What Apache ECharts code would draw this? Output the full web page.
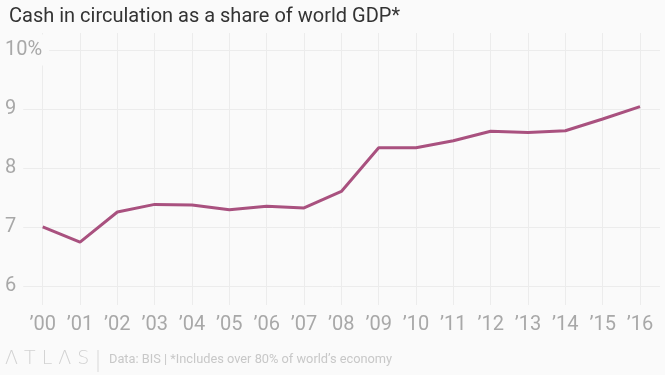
<!DOCTYPE html>
<html>
<head>
<meta charset="utf-8">
<script src="https://cdn.jsdelivr.net/npm/echarts@6/dist/echarts.min.js"></script>
<style>
  html, body { margin: 0; padding: 0; background: #fafafa; }
  #chart { width: 665px; height: 375px; }
</style>
</head>
<body>
<div id="chart"></div>
<script>
var years = ["’00", "’01", "’02", "’03", "’04", "’05", "’06", "’07", "’08",
	"’09", "’10", "’11", "’12", "’13", "’14", "’15", "’16"];
var cashShare = [7.0, 6.74, 7.25, 7.38, 7.37, 7.29, 7.35, 7.32, 7.60,
	8.34, 8.34, 8.46, 8.62, 8.60, 8.63, 8.83, 9.04];
var yTicks = [6, 7, 8, 9, 10];

var chart = echarts.init(document.getElementById('chart'));
chart.setOption({
	backgroundColor: '#fafafa',
	animation: false,
	title: {
		text: 'Cash in circulation as a share of world GDP*',
		left: 4,
		top: 2,
		textStyle: {
			fontFamily: 'Roboto',
			fontWeight: 'normal',
			fontSize: 20,
			color: '#333'
		}
	},
	// grid 0 carries the horizontal rules and y labels, grid 1 the line
	grid: [
		{ left: 5, right: 5, top: 50, bottom: 89 },
		{ left: 42.7, right: 25, top: 33, bottom: 70 }
	],
	xAxis: [
		{ gridIndex: 0, type: 'category', data: years, show: false },
		{
			gridIndex: 1,
			type: 'category',
			data: years,
			boundaryGap: false,
			z: 0,
			axisLine: { show: false },
			axisTick: { show: false },
			splitLine: { show: true, lineStyle: { color: '#ececec', width: 1 } },
			axisLabel: {
				margin: 10,
				fontFamily: 'Roboto',
				fontSize: 20,
				color: '#a8a8a8'
			}
		}
	],
	yAxis: [
		{
			gridIndex: 0,
			type: 'value',
			min: yTicks[0],
			max: yTicks[yTicks.length - 1],
			interval: 1,
			z: 5,
			axisLine: { show: false },
			axisTick: { show: false },
			splitLine: { lineStyle: { color: '#ececec', width: 1 } },
			axisLabel: {
				inside: true,
				margin: 0,
				fontFamily: 'Roboto',
				fontSize: 20,
				color: '#a8a8a8',
				backgroundColor: '#fafafa',
				padding: [6, 7, 5, 0],
				formatter: function (v) {
					return v === 10 ? '10%' : String(v);
				}
			}
		},
		{
			gridIndex: 1,
			type: 'value',
			min: 5.672,
			max: 10.289,
			show: false,
			splitLine: { show: false }
		}
	],
	series: [{
		type: 'line',
		xAxisIndex: 1,
		yAxisIndex: 1,
		data: cashShare,
		symbol: 'none',
		z: 10,
		lineStyle: { color: '#a9517f', width: 3 }
	}],
	graphic: [
		{
			type: 'text',
			left: 5,
			top: 350,
			style: {
				text: 'Λ T L Λ S',
				fontFamily: 'DejaVu Sans',
				fontWeight: 'lighter',
				fontSize: 19,
				fill: '#d2d2d2'
			}
		},
		{
			type: 'line',
			shape: { x1: 98, y1: 350, x2: 98, y2: 372 },
			style: { stroke: '#d8d8d8', lineWidth: 1 }
		},
		{
			type: 'text',
			left: 109,
			top: 353,
			style: {
				text: 'Data: BIS | *Includes over 80% of world’s economy',
				fontFamily: 'Roboto',
				fontSize: 12.8,
				fill: '#c8c8c8'
			}
		}
	]
});
</script>
</body>
</html>
